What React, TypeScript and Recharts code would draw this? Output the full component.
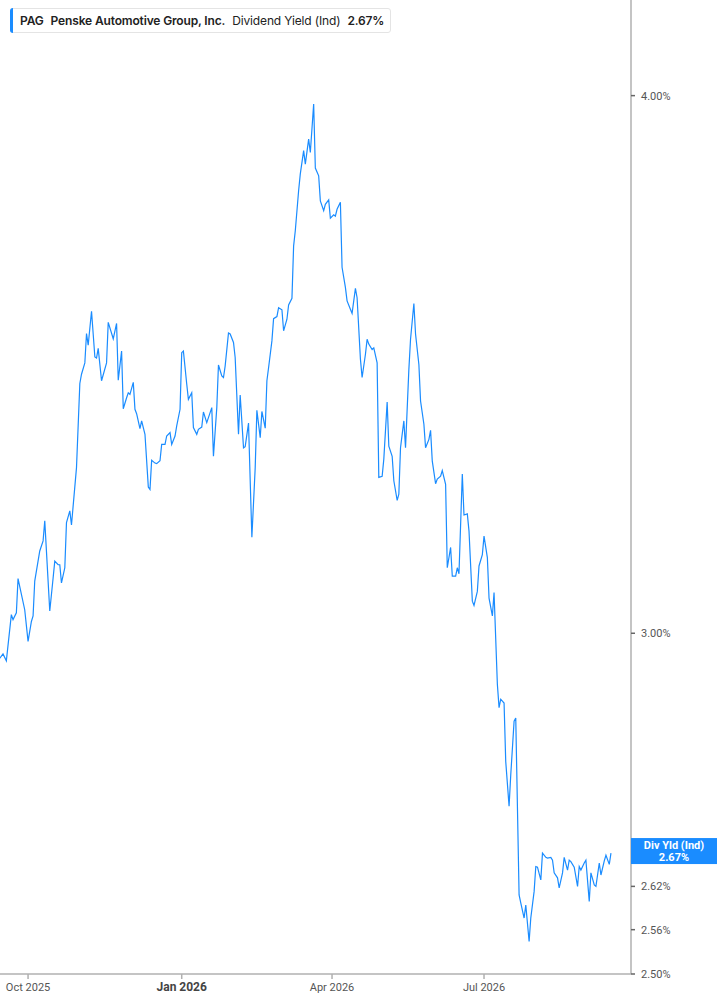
import React from 'react';
import { LineChart, Line, XAxis, YAxis, ReferenceLine } from 'recharts';

// days counted from 1 Oct 2025
const dayIdx = [
  -17, -15, -13, -10, -9, -7, -6, -2, 0, 2,
  3, 4, 7, 9, 10, 13, 15, 16, 18, 19,
  20, 22, 23, 25, 26, 29, 31, 32, 34, 35,
  36, 38, 40, 41, 42, 44, 47, 48, 51, 53,
  54, 56, 57, 59, 60, 61, 63, 64, 65, 67,
  68, 70, 72, 73, 74, 76, 77, 79, 80, 82,
  83, 85, 86, 88, 89, 91, 92, 93, 95, 96,
  98, 99, 101, 102, 104, 105, 107, 108, 110, 111,
  113, 114, 116, 117, 118, 120, 121, 123, 124, 126,
  127, 129, 130, 132, 134, 136, 137, 139, 140, 142,
  143, 144, 146, 147, 149, 150, 152, 153, 155, 156,
  158, 159, 160, 162, 163, 165, 166, 168, 169, 171,
  172, 174, 175, 177, 178, 180, 181, 183, 184, 185,
  187, 188, 190, 191, 193, 194, 196, 197, 199, 200,
  202, 203, 204, 206, 207, 209, 210, 212, 213, 215,
  216, 218, 219, 221, 222, 223, 225, 226, 228, 229,
  231, 232, 234, 235, 237, 238, 240, 241, 242, 244,
  245, 247, 248, 250, 251, 253, 254, 256, 257, 258,
  260, 261, 263, 264, 266, 267, 269, 270, 272, 273,
  275, 276, 278, 279, 281, 282, 283, 285, 286, 288,
  289, 291, 292, 294, 295, 297, 298, 300, 301, 303,
  304, 305, 307, 308, 310, 311, 313, 314, 315, 317,
  318, 320, 321, 323, 324, 325, 327, 329, 330, 331,
  333, 334, 336, 337, 339, 340, 342, 343, 345, 346,
  348, 349,
];

// dividend yield (ind), %
const yieldPct = [
  2.960, 2.967, 2.956, 3.030, 3.022, 3.033, 3.089, 3.038, 2.987, 3.019,
  3.028, 3.085, 3.135, 3.152, 3.186, 3.036, 3.090, 3.118, 3.112, 3.112,
  3.082, 3.107, 3.183, 3.203, 3.179, 3.278, 3.429, 3.446, 3.467, 3.522,
  3.500, 3.564, 3.478, 3.476, 3.494, 3.434, 3.467, 3.543, 3.512, 3.541,
  3.435, 3.489, 3.383, 3.403, 3.412, 3.409, 3.431, 3.382, 3.374, 3.347,
  3.361, 3.337, 3.244, 3.240, 3.291, 3.286, 3.285, 3.290, 3.319, 3.319,
  3.334, 3.340, 3.319, 3.334, 3.352, 3.382, 3.486, 3.489, 3.428, 3.400,
  3.412, 3.349, 3.337, 3.346, 3.350, 3.377, 3.358, 3.367, 3.385, 3.298,
  3.385, 3.463, 3.443, 3.440, 3.461, 3.523, 3.521, 3.505, 3.477, 3.337,
  3.408, 3.313, 3.315, 3.357, 3.158, 3.278, 3.380, 3.331, 3.378, 3.348,
  3.434, 3.458, 3.508, 3.550, 3.554, 3.571, 3.567, 3.527, 3.549, 3.576,
  3.589, 3.691, 3.721, 3.802, 3.836, 3.884, 3.856, 3.908, 3.880, 3.982,
  3.848, 3.832, 3.781, 3.761, 3.774, 3.783, 3.746, 3.753, 3.750, 3.764,
  3.778, 3.649, 3.610, 3.584, 3.568, 3.560, 3.608, 3.590, 3.474, 3.440,
  3.483, 3.511, 3.502, 3.492, 3.495, 3.467, 3.261, 3.263, 3.293, 3.395,
  3.316, 3.298, 3.255, 3.221, 3.232, 3.313, 3.361, 3.313, 3.455, 3.511,
  3.579, 3.521, 3.464, 3.397, 3.355, 3.313, 3.328, 3.344, 3.290, 3.250,
  3.258, 3.263, 3.273, 3.249, 3.107, 3.141, 3.093, 3.093, 3.107, 3.097,
  3.267, 3.196, 3.198, 3.169, 3.052, 3.045, 3.068, 3.110, 3.129, 3.160,
  3.124, 3.057, 3.028, 3.066, 2.919, 2.883, 2.896, 2.890, 2.801, 2.735,
  2.781, 2.862, 2.867, 2.608, 2.597, 2.576, 2.594, 2.544, 2.576, 2.613,
  2.648, 2.647, 2.629, 2.667, 2.661, 2.660, 2.661, 2.657, 2.639, 2.632,
  2.618, 2.639, 2.661, 2.643, 2.657, 2.655, 2.647, 2.620, 2.648, 2.643,
  2.653, 2.657, 2.599, 2.639, 2.622, 2.620, 2.653, 2.636, 2.656, 2.664,
  2.651, 2.667,
];

const xTickDays = [0, 92, 182, 273];
const xTickLabels = ['Oct 2025', 'Jan 2026', 'Apr 2026', 'Jul 2026'];
const yTicks = [2.5, 2.56, 2.62, 2.68, 3, 4];

const lastYield = 2.67;
// tick sitting behind the last-value tag, only its top peeks out
const coveredTick = 2.68;

const data = dayIdx.map((d, i) => ({ day: d, value: yieldPct[i] }));

const LINE = '#1a8cff';
const AXIS = '#b0b0b0';
const FONT = 'Roboto, "Noto Sans", sans-serif';

const XTick = (props: any) => {
  const { x, y, payload } = props;
  const i = xTickDays.indexOf(payload.value);
  const bold = xTickLabels[i] === 'Jan 2026';
  return (
    <text x={x} y={y + 10} textAnchor="middle" fontFamily={FONT} fontSize={bold ? 12 : 11}
      fontWeight={bold ? 700 : 400} fill={bold ? '#444' : '#555'}>
      {xTickLabels[i]}
    </text>
  );
};

const YTick = (props: any) => {
  const { x, y, payload } = props;
  const covered = payload.value === coveredTick;
  return (
    <g>
      {covered && (
        <defs>
          <clipPath id="covered-tick">
            <rect x={x - 2} y={y - 12} width={60} height={9} />
          </clipPath>
        </defs>
      )}
      <text x={x} y={y + 4} textAnchor="start" fontFamily={FONT} fontSize={11} fill="#555"
        clipPath={covered ? 'url(#covered-tick)' : undefined}>
        {payload.value.toFixed(2)}%
      </text>
    </g>
  );
};

const ValueTag = (props: any) => {
  const vb = props.viewBox || {};
  const left = (vb.x || 0) + (vb.width || 0);
  const cy = vb.y || 0;
  return (
    <g>
      <rect x={left} y={cy - 13} width={86} height={26} fill={LINE} />
      <text x={left + 43} y={cy - 2} textAnchor="middle" fontFamily={FONT} fontSize={11}
        fontWeight={700} fill="#fff">Div Yld (Ind)</text>
      <text x={left + 43} y={cy + 10} textAnchor="middle" fontFamily={FONT} fontSize={11}
        fontWeight={700} fill="#fff">{lastYield.toFixed(2)}%</text>
    </g>
  );
};

export default function App() {
  const refProps: any = { zIndex: 3000 };
  return (
    <div style={{ position: 'absolute', left: 0, top: 0, width: 717, height: 1005, background: '#fff' }}>
      <LineChart width={717} height={1005} data={data} margin={{ top: 0, right: 6, bottom: 0, left: 0 }}>
        <XAxis
          dataKey="day"
          type="number"
          domain={[-16.8, 361]}
          ticks={xTickDays}
          tick={<XTick />}
          stroke={AXIS}
          strokeWidth={1.5}
          tickSize={5}
          height={31}
          allowDataOverflow
        />
        <YAxis
          orientation="right"
          type="number"
          scale="log"
          domain={[2.5, 4.21]}
          ticks={yTicks}
          tick={<YTick />}
          stroke={AXIS}
          strokeWidth={1.5}
          tickLine={{ stroke: '#666' }}
          tickSize={4}
          tickMargin={6}
          width={80}
          allowDataOverflow
        />
        <Line
          type="linear"
          dataKey="value"
          stroke={LINE}
          strokeWidth={1.2}
          dot={false}
          isAnimationActive={false}
        />
        <ReferenceLine y={lastYield} stroke="none" label={<ValueTag />} ifOverflow="visible" {...refProps} />
      </LineChart>
      <div style={{
        position: 'absolute', left: 10, top: 8, height: 25, boxSizing: 'border-box',
        border: '1px solid #e4e4e4', borderRadius: 3, background: '#fff',
        display: 'flex', alignItems: 'center', padding: '0 6px 0 9px',
        fontFamily: 'Inter, "Noto Sans", sans-serif', fontSize: 12, color: '#222', whiteSpace: 'nowrap',
        letterSpacing: '-0.15px',
      }}>
        <div style={{ position: 'absolute', left: -1, top: -1, bottom: -1, width: 3, background: LINE, borderRadius: '3px 0 0 3px' }} />
        <span style={{ fontWeight: 600, marginRight: 7 }}>PAG</span>
        <span style={{ fontWeight: 600, marginRight: 7 }}>Penske Automotive Group, Inc.</span>
        <span style={{ fontWeight: 400, marginRight: 7 }}>Dividend Yield (Ind)</span>
        <span style={{ fontWeight: 600 }}>2.67%</span>
      </div>
    </div>
  );
}
